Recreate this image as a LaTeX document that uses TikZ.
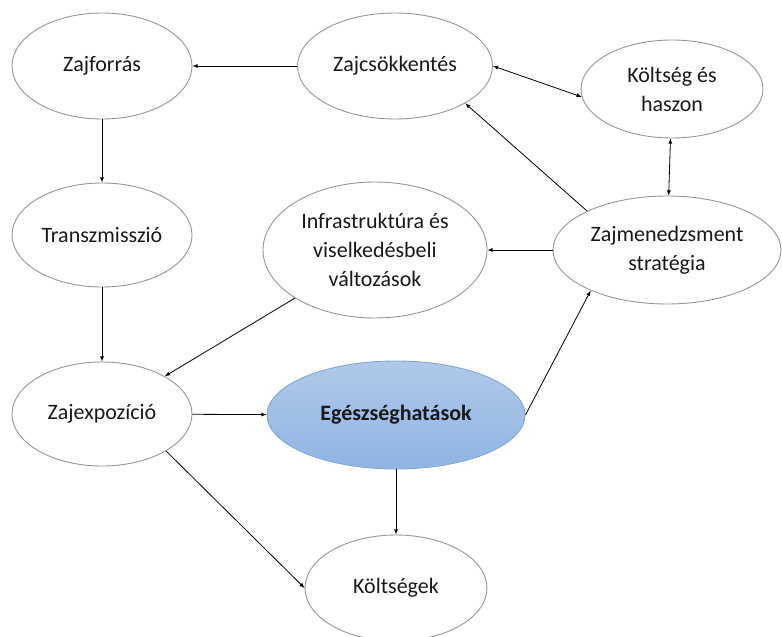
\documentclass[tikz,border=0pt]{standalone}
\usepackage{fontspec}
\setmainfont{Carlito}
\usetikzlibrary{shapes.geometric}
\definecolor{rim}{RGB}{150,150,150}
\definecolor{healthtop}{RGB}{176,201,233}
\definecolor{healthbot}{RGB}{143,181,227}
\definecolor{healthrim}{RGB}{130,168,216}
\begin{document}
\begin{tikzpicture}[x=1pt, y=-1pt]
  \tikzstyle{oval}=[ellipse, draw=rim, line width=0.9pt, inner sep=0pt, fill=white,
    align=center, font=\fontsize{22}{29}\selectfont, text=black!90]
  \tikzstyle{health}=[draw=healthrim, top color=healthtop, bottom color=healthbot,
    font=\fontsize{22}{29}\selectfont\bfseries]
  \tikzstyle{arr}=[->, >=latex, line width=0.8pt]
  \tikzstyle{dbl}=[<->, >=latex, line width=0.8pt]

  \useasboundingbox (0,0) rectangle (782,637);

  \node[oval, minimum width=180pt, minimum height=106pt] (forras)  at (102,  66) {Zajforrás};
  \node[oval, minimum width=195pt, minimum height=106pt] (csokk)   at (395,  66) {Zajcsökkentés};
  \node[oval, minimum width=182pt, minimum height=98pt]  (haszon)  at (672,  89) {Költség és\\haszon};
  \node[oval, minimum width=180pt, minimum height=104pt] (transz)  at (102, 235) {Transzmisszió};
  \node[oval, minimum width=224pt, minimum height=136pt] (infra)   at (375, 250) {Infrastruktúra és\\viselkedésbeli\\változások};
  \node[oval, minimum width=228pt, minimum height=108pt] (strat)   at (667, 250) {Zajmenedzsment\\stratégia};
  \node[oval, minimum width=180pt, minimum height=104pt] (expo)    at (102, 414) {Zajexpozíció};
  \node[oval, health, minimum width=258pt, minimum height=108pt] (egesz) at (396, 415) {Egészséghatások};
  \node[oval, minimum width=182pt, minimum height=106pt] (koltseg) at (396, 588) {Költségek};

  \path (csokk) edge[arr] (forras);
  \path (forras) edge[arr] (transz);
  \path (transz) edge[arr] (expo);
  \path (infra) edge[arr] (expo);
  \path (expo) edge[arr] (egesz);
  \path (expo.-30) edge[arr] (koltseg.west);
  \path (egesz) edge[arr] (koltseg);
  \path (egesz.east) edge[arr] (strat.208);
  \path (strat) edge[arr] (infra);
  \path (strat.154) edge[arr] (csokk.-28);
  \path (csokk.east) edge[dbl] (haszon.185);
  \path (haszon) edge[dbl] (strat);
\end{tikzpicture}
\end{document}
